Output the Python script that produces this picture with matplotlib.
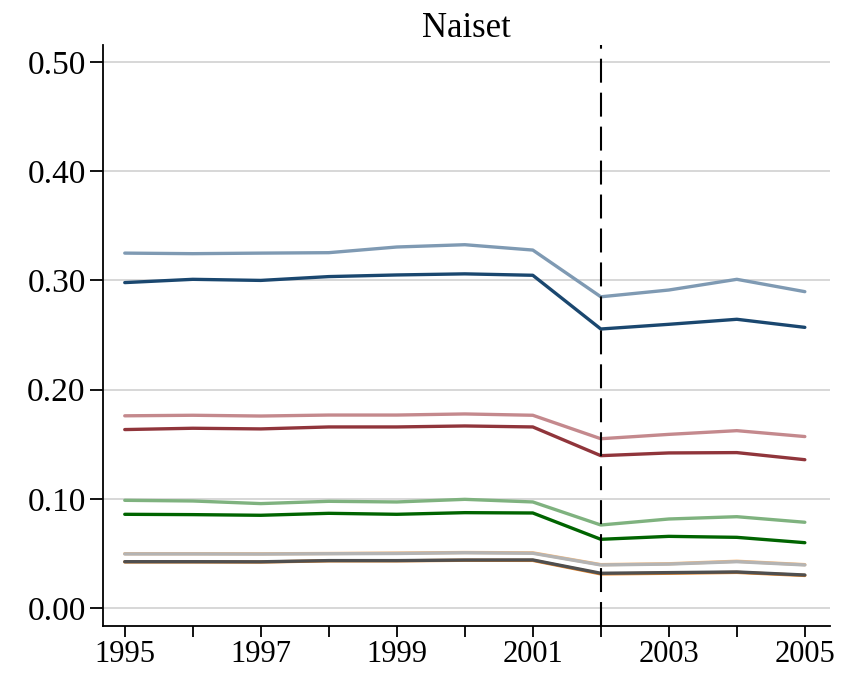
import matplotlib
matplotlib.use("Agg")
import matplotlib.pyplot as plt

years = list(range(1995, 2006))

blue_light = [0.325, 0.3245, 0.325, 0.3254, 0.3306, 0.3327, 0.3278, 0.285, 0.2912, 0.301, 0.2897]
blue_dark = [0.298, 0.301, 0.300, 0.3035, 0.305, 0.306, 0.3047, 0.2555, 0.2598, 0.2644, 0.257]
red_light = [0.176, 0.1765, 0.1758, 0.1767, 0.1767, 0.1777, 0.1765, 0.155, 0.159, 0.1624, 0.157]
red_dark = [0.1634, 0.1646, 0.164, 0.1658, 0.1658, 0.1667, 0.1658, 0.1395, 0.142, 0.1423, 0.1358]
green_light = [0.0986, 0.098, 0.0956, 0.0977, 0.0971, 0.0995, 0.0971, 0.076, 0.0815, 0.0836, 0.0785]
green_dark = [0.0858, 0.0855, 0.0849, 0.0867, 0.0858, 0.0873, 0.087, 0.0629, 0.0656, 0.0647, 0.0598]
orange_light = [0.0497, 0.0497, 0.0496, 0.0499, 0.0503, 0.0508, 0.0505, 0.0397, 0.0405, 0.0428, 0.0397]
orange_dark = [0.0422, 0.0422, 0.0421, 0.0432, 0.0432, 0.0437, 0.0436, 0.0312, 0.0318, 0.0326, 0.0298]
gray_light = [0.0495, 0.0495, 0.0494, 0.0497, 0.0499, 0.0506, 0.0501, 0.0394, 0.0402, 0.0424, 0.0394]
gray_dark = [0.0424, 0.0424, 0.0423, 0.0434, 0.0434, 0.0439, 0.044, 0.0318, 0.0324, 0.033, 0.0302]

series = [
    (blue_light, "#7f9ab3"),
    (blue_dark, "#1a476f"),
    (red_light, "#c4898d"),
    (red_dark, "#90353b"),
    (green_light, "#7fb27f"),
    (green_dark, "#006400"),
    (orange_light, "#f5b87a"),
    (orange_dark, "#e8862a"),
    (gray_light, "#b4b4b4"),
    (gray_dark, "#4f4f4f"),
]

plt.rcParams['font.family'] = ['Liberation Serif', 'DejaVu Serif']

fig = plt.figure(figsize=(8.42, 6.73), dpi=100)
ax = fig.add_axes([103/842, 1-626/673, (830-103)/842, (626-45)/673])

yt = [0.0, 0.1, 0.2, 0.3, 0.4, 0.5]
for v in yt:
    ax.axhline(v, color="#d4d4d4", lw=1.3, zorder=0)

for vals, c in series:
    ax.plot(years, vals, color=c, lw=2.4, solid_capstyle='round', zorder=2)

ax.axvline(2002, color="black", lw=1.5, dashes=(11.5, 4.8), zorder=3)

ax.set_xlim(1994.68, 2005.37)
ax.set_ylim(-0.0165, 0.5156)
ax.set_yticks(yt)
ax.set_yticklabels([f"{v:.2f}" for v in yt])
ax.set_xticks(years)
ax.set_xticklabels([str(y) if (y - 1995) % 2 == 0 else "" for y in years])

for s in ["top", "right"]:
    ax.spines[s].set_visible(False)
for s in ["left", "bottom"]:
    ax.spines[s].set_linewidth(1.3)

ax.tick_params(axis="y", direction="out", length=9.5, width=1.3, labelsize=24, pad=3)
ax.tick_params(axis="x", direction="out", length=8, width=1.3, labelsize=22, pad=2)

ax.set_title("Naiset", fontsize=25, pad=6)

fig.savefig("out.png", dpi=100)
